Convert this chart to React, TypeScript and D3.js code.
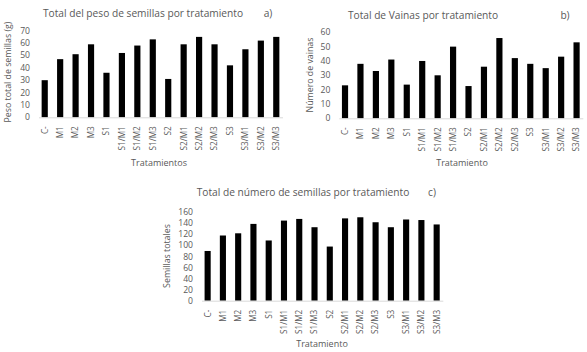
import React, { useEffect, useRef } from 'react';
import * as d3 from 'd3';

const categories = ['C-', 'M1', 'M2', 'M3', 'S1', 'S1/M1', 'S1/M2', 'S1/M3', 'S2', 'S2/M1', 'S2/M2', 'S2/M3', 'S3', 'S3/M1', 'S3/M2', 'S3/M3'];
const pesoSemillas = [30, 47, 51, 59, 36, 52, 58, 63, 31, 59, 65, 59, 42, 55, 62, 65];
const numVainas = [23, 38, 33, 41, 23.5, 40, 30, 50, 22.5, 36, 56, 42, 38, 35, 43, 53];
const numSemillas = [90, 118, 122, 139, 109, 145, 148, 133, 98, 149, 151, 142, 133, 147, 146, 138];
const ticksA = [0, 10, 20, 30, 40, 50, 60, 70];
const ticksB = [0, 10, 20, 30, 40, 50, 60];
const ticksC = [0, 20, 40, 60, 80, 100, 120, 140, 160];

const FONT = '"Open Sans", "Liberation Sans", sans-serif';
const GREY = '#595959';

type Panel = {
  values: number[];
  ticks: number[];
  title: string;
  tag: string;
  yLabel: string;
  xLabel: string;
  x0: number; x1: number;   // band range
  yTop: number; yBase: number;
  titleX: number; titleY: number; tagX: number;
  yLabelX: number; yLabelY: number;
  xLabelX: number; xLabelY: number;
};

const panels: Panel[] = [
  {
    values: pesoSemillas, ticks: ticksA,
    title: 'Total del peso de semillas por tratamiento', tag: 'a)',
    yLabel: 'Peso total  de semillas (g)', xLabel: 'Tratamientos',
    x0: 37, x1: 284, yTop: 30.7, yBase: 117.3,
    titleX: 143, titleY: 17, tagX: 268,
    yLabelX: 7.5, yLabelY: 72, xLabelX: 159, xLabelY: 166,
  },
  {
    values: numVainas, ticks: ticksB,
    title: 'Total de Vainas por tratamiento', tag: 'b)',
    yLabel: 'Número de vainas', xLabel: 'Tratamiento',
    x0: 337.3, x1: 584.3, yTop: 32.3, yBase: 118.3,
    titleX: 423, titleY: 18.5, tagX: 565,
    yLabelX: 310, yLabelY: 75, xLabelX: 462, xLabelY: 166,
  },
  {
    values: numSemillas, ticks: ticksC,
    title: 'Total de número de semillas por tratamiento', tag: 'c)',
    yLabel: 'Semillas totales', xLabel: 'Tratamiento',
    x0: 200, x1: 444.3, yTop: 212.3, yBase: 300.7,
    titleX: 303, titleY: 196, tagX: 432,
    yLabelX: 167, yLabelY: 256, xLabelX: 322, xLabelY: 347,
  },
];

export default function App() {
  const svgRef = useRef<SVGSVGElement>(null);

  useEffect(() => {
    const svg = d3.select(svgRef.current);
    svg.selectAll('*').remove();
    svg.append('rect').attr('width', 587).attr('height', 352).attr('fill', '#fff');

    panels.forEach((p) => {
      const g = svg.append('g').style('font-family', FONT);
      const x = d3.scaleBand<string>().domain(categories).range([p.x0, p.x1])
        .paddingInner(0.6).paddingOuter(0.3);
      const y = d3.scaleLinear().domain([0, p.ticks[p.ticks.length - 1]]).range([p.yBase, p.yTop]);

      // y tick labels (no gridlines)
      g.selectAll('.yt').data(p.ticks).join('text')
        .attr('x', p.x0 - 7).attr('y', (d) => y(d))
        .attr('dy', '0.35em').attr('text-anchor', 'end')
        .attr('font-size', 8.6).attr('fill', GREY)
        .text((d) => d);

      // bars
      g.selectAll('.bar').data(p.values).join('rect')
        .attr('x', (_, i) => x(categories[i])!)
        .attr('y', (d) => y(d))
        .attr('width', x.bandwidth())
        .attr('height', (d) => y(0) - y(d))
        .attr('fill', '#000');

      // baseline
      g.append('line')
        .attr('x1', p.x0 + 2).attr('x2', p.x1 - 1)
        .attr('y1', y(0) + 0.5).attr('y2', y(0) + 0.5)
        .attr('stroke', '#d9d9d9').attr('stroke-width', 1);

      // category labels
      g.selectAll('.xt').data(categories).join('text')
        .attr('transform', (d) => `translate(${x(d)! + x.bandwidth() / 2},${p.yBase + 9}) rotate(-90)`)
        .attr('dy', '0.35em').attr('text-anchor', 'end')
        .attr('font-size', 8.2).attr('fill', GREY)
        .text((d) => d);

      // titles
      g.append('text').attr('x', p.titleX).attr('y', p.titleY)
        .attr('text-anchor', 'middle').attr('font-size', 10.2).attr('fill', GREY)
        .text(p.title);
      g.append('text').attr('x', p.tagX).attr('y', p.titleY)
        .attr('text-anchor', 'middle').attr('font-size', 10.2).attr('fill', GREY)
        .text(p.tag);

      g.append('text')
        .attr('transform', `translate(${p.yLabelX},${p.yLabelY}) rotate(-90)`)
        .attr('dy', '0.35em').attr('text-anchor', 'middle')
        .attr('font-size', 8.8).attr('fill', GREY)
        .text(p.yLabel);

      g.append('text').attr('x', p.xLabelX).attr('y', p.xLabelY)
        .attr('text-anchor', 'middle').attr('font-size', 9).attr('fill', GREY)
        .text(p.xLabel);
    });
  }, []);

  return (
    <svg ref={svgRef} width={587} height={352}
      style={{ position: 'absolute', left: 0, top: 0, display: 'block' }} />
  );
}
